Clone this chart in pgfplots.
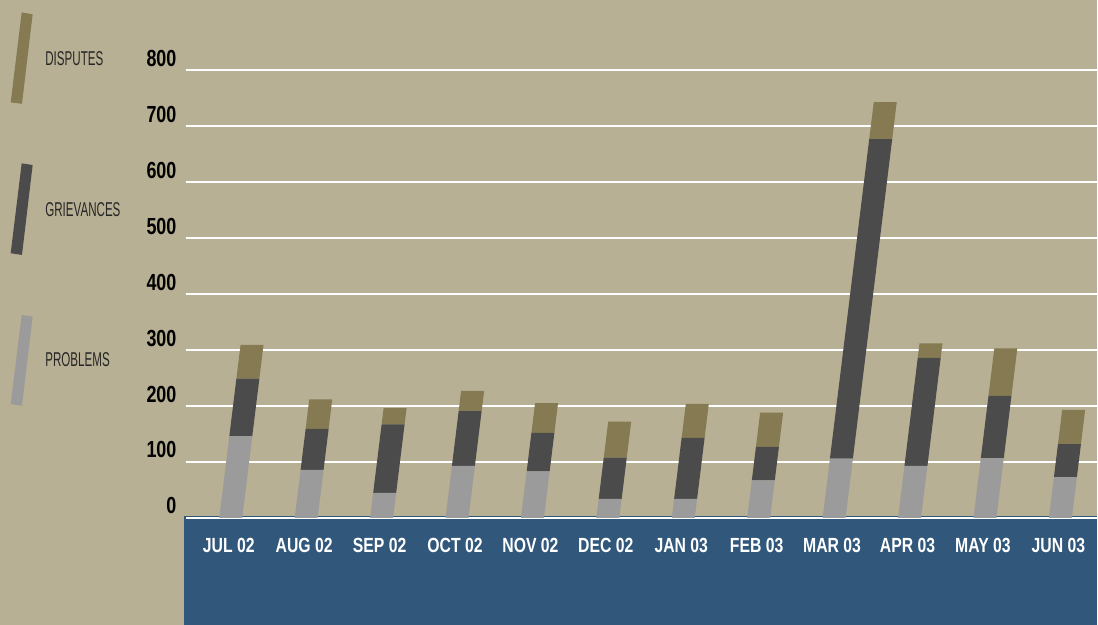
\documentclass[border=0pt]{standalone}
\usepackage{pgfplots}
\pgfplotsset{compat=1.18}
\usepackage{pgfplotstable}
\usepackage{fontspec}
\setmainfont{Liberation Sans}
\newfontfamily\condb[FakeStretch=0.77]{Liberation Sans}
\newfontfamily\condl[FakeStretch=0.58]{Liberation Sans}

\definecolor{bgtan}{RGB}{184,176,148}
\definecolor{band}{RGB}{49,87,123}
\definecolor{probc}{RGB}{155,155,155}
\definecolor{grievc}{RGB}{75,75,75}
\definecolor{dispc}{RGB}{133,122,81}

\pgfdeclarelayer{background}
\pgfsetlayers{background,main}

% month index, problems, grievances, disputes
\pgfplotstableread{
idx prob griev disp
0   146  103   60
1    86   73   53
2    45  122   29
3    93   98   36
4    83   69   53
5    34   74   64
6    34  109   61
7    67   60   61
8   106  571   66
9    93  193   26
10  107  111   85
11   73   59   61
}\cases

\begin{document}
\begin{tikzpicture}

% frame, band and legend in image pixels (1px = 0.5pt)
\begin{scope}[x=0.5pt,y=-0.5pt]
\begin{pgfonlayer}{background}
  \fill[bgtan] (0,0) rectangle (1098,625);
  \fill[band] (184,516.7) rectangle (1098,625);
\end{pgfonlayer}
  \fill[dispc]  (21.7,12.3) -- (32.7,14) -- (22,103.7) -- (10.7,102.3) -- cycle;
  \fill[grievc] (21.7,163.3) -- (32.7,165) -- (22,255) -- (10.7,253.3) -- cycle;
  \fill[probc]  (21.7,315) -- (32.7,316.7) -- (22,406) -- (10.7,404.3) -- cycle;
  \begin{scope}[every node/.style={anchor=west, inner sep=0pt, text=black!85,
      font=\condl\fontsize{10}{12}\selectfont}]
    \node at (45,58.7) {DISPUTES};
    \node at (45,210) {GRIEVANCES};
    \node at (45,360) {PROBLEMS};
  \end{scope}
\end{scope}

\begin{axis}[
    at={(93pt,-259.15pt)}, anchor=south west,
    scale only axis,
    width=456pt, height=259.15pt,
    xmin=-0.596, xmax=11.483,
    ymin=0, ymax=925,
    ybar stacked, bar width=11.5pt,
    axis line style={draw=none},
    major tick length=0pt,
    xtick={0,...,11},
    xticklabels={JUL 02,AUG 02,SEP 02,OCT 02,NOV 02,DEC 02,JAN 03,FEB 03,MAR 03,APR 03,MAY 03,JUN 03},
    ytick={0,100,...,800},
    ymajorgrids=true,
    grid style={white, line width=1.2pt},
    /pgf/number format/assume math mode=true,
    xticklabel style={anchor=base, inner sep=0pt, yshift=-17.35pt, xshift=-1pt,
      text=white, font=\condb\bfseries\fontsize{10.25}{12}\selectfont},
    yticklabel style={anchor=base east, inner sep=0pt, xshift=-4.5pt, yshift=2pt,
      text=black, font=\condb\bfseries\fontsize{11.65}{13}\selectfont},
]
\addplot[fill=probc, draw=none, xslant=0.123] table[x=idx, y=prob] {\cases};
\addplot[fill=grievc, draw=none, xslant=0.123] table[x=idx, y=griev] {\cases};
\addplot[fill=dispc, draw=none, xslant=0.123] table[x=idx, y=disp] {\cases};
\end{axis}
\end{tikzpicture}
\end{document}
